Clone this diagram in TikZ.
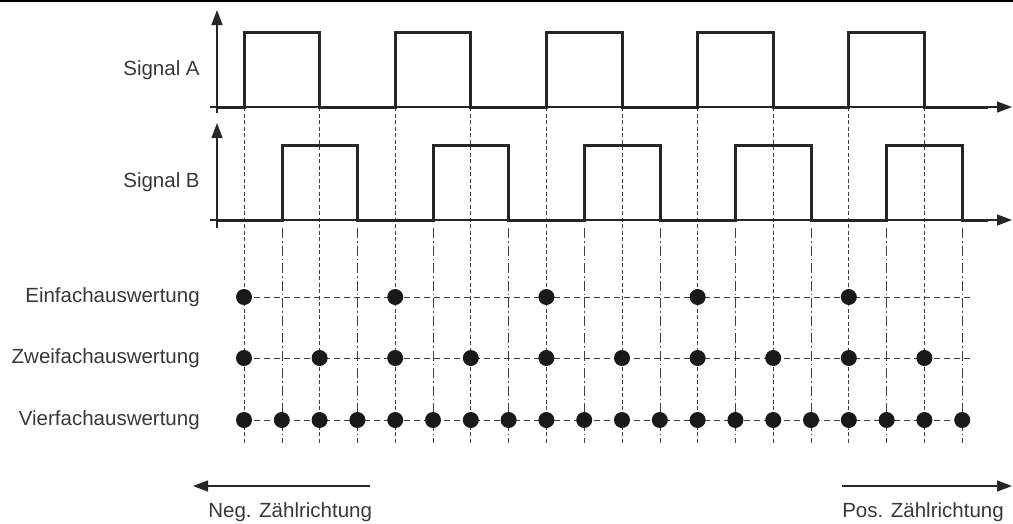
\documentclass[tikz,border=0pt]{standalone}
\usepackage{fontspec}
\setmainfont{Liberation Sans}
\usetikzlibrary{arrows.meta,positioning}

\begin{document}
\begin{tikzpicture}[x=1pt,y=-1pt
	,font=\fontsize{20.5}{24}\selectfont
	,semithick]
  \tikzset{
    lbl/.style={anchor=east,text=black!78,inner sep=0pt},
    wave/.style={line width=3pt,black!85,line join=miter},
    axis/.style={line width=1.4pt,black!85},
    arr/.style={-{Triangle[length=15pt,width=11pt]}},
    tickA/.style={black!75,line width=1pt,dash pattern=on 4pt off 2.5pt},
    tickB/.style={black!75,line width=1pt,dash pattern=on 10pt off 3pt on 1.5pt off 3pt},
    row/.style={black!75,line width=1pt,dash pattern=on 6pt off 4pt},
    hit/.style={circle,fill=black!90,minimum size=16pt,inner sep=0pt}
  }
  \useasboundingbox (0,0) rectangle (1013,523);
  \draw[line width=2pt] (0,1) -- (1013,1);

  % signal labels
  \node[lbl] (sigA) at (200,70)  {Signal A};
  \node[lbl] (sigB) at (200,182) {Signal B};
  % row labels
  \node[lbl] (einfach) at (200,297) {Einfachauswertung};
  \node[lbl] (zweifach) at (200,358) {Zweifachauswertung};
  \node[lbl] (vierfach) at (200,420) {Vierfachauswertung};

  % vertical lines, A edges and B edges
  \foreach \k in {0,...,9}
    \draw[tickA] ({244+75.6*\k},107) -- ({244+75.6*\k},443);
  \foreach \k in {0,...,9}
    \draw[tickB] ({282+75.6*\k},228) -- ({282+75.6*\k},443);

  % axes
  \coordinate (aL) at (210,107);  \coordinate (aR) at (1012,107);
  \coordinate (aD) at (217,113);  \coordinate (aU) at (217,10);
  \coordinate (bL) at (210,220);  \coordinate (bR) at (1012,220);
  \coordinate (bD) at (217,228);  \coordinate (bU) at (217,123);
  \draw[axis,arr] (aL) -- (aR);
  \draw[axis,arr] (aD) -- (aU);
  \draw[axis,arr] (bL) -- (bR);
  \draw[axis,arr] (bD) -- (bU);

  % signal A
  \draw[wave] (217,107) foreach \k in {0,...,4} {
      -- ({244+151.2*\k},107) -- ({244+151.2*\k},32)
      -- ({319.6+151.2*\k},32) -- ({319.6+151.2*\k},107) } -- (988,107);
  % signal B
  \draw[wave] (217,220) foreach \k in {0,...,4} {
      -- ({282+151.2*\k},220) -- ({282+151.2*\k},145)
      -- ({357.6+151.2*\k},145) -- ({357.6+151.2*\k},220) } -- (988,220);

  % counting rows
  \coordinate (eStart) at (244,297);  \coordinate (eEnd) at (973,297);
  \coordinate (zStart) at (244,358);  \coordinate (zEnd) at (973,358);
  \coordinate (vStart) at (244,420);  \coordinate (vEnd) at (973,420);
  \draw[row] (eStart) -- (eEnd);
  \draw[row] (zStart) -- (zEnd);
  \draw[row] (vStart) -- (vEnd);
  \foreach \k in {0,...,4}
    \node[hit] (e\k) at ({244+151.2*\k},297) {};
  \foreach \k in {0,...,9}
    \node[hit] (z\k) at ({244+75.6*\k},358) {};
  \foreach \k in {0,...,19}
    \node[hit] (v\k) at ({244+37.8*\k},420) {};

  % counting direction
  \coordinate (negR) at (370,486);
  \coordinate (negL) at (193,486);
  \coordinate (posL) at (842,486);
  \coordinate (posR) at (1012,486);
  \draw[axis,arr] (negR) -- (negL);
  \draw[axis,arr] (posL) -- (posR);
  \node[anchor=base west,inner sep=0pt,text=black!78] (neg) at (208,517) {Neg. Zählrichtung};
  \node[anchor=base west,inner sep=0pt,text=black!78] (pos) at (842,517) {Pos. Zählrichtung};
\end{tikzpicture}
\end{document}
